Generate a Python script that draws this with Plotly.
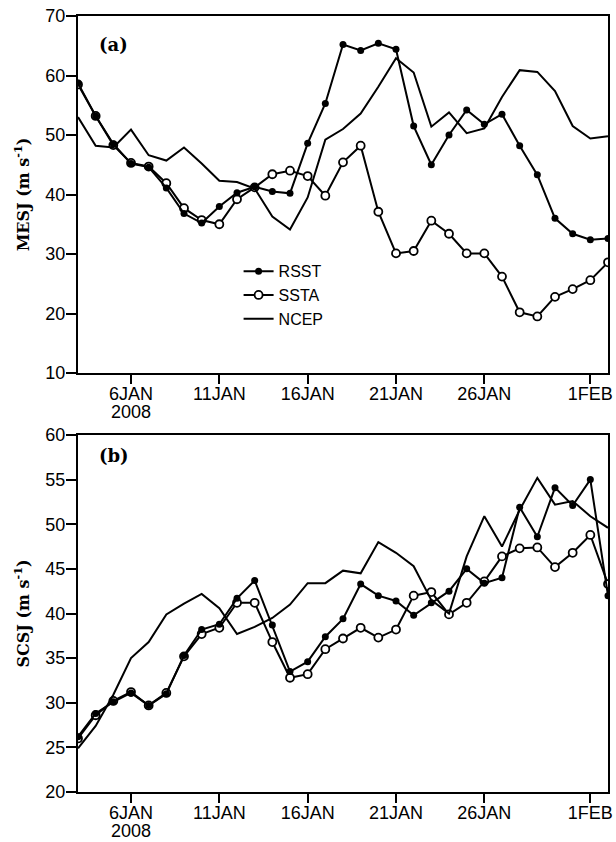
import plotly.graph_objects as go

dates = ["2008-01-03", "2008-01-04", "2008-01-05", "2008-01-06", "2008-01-07", "2008-01-08",
         "2008-01-09", "2008-01-10", "2008-01-11", "2008-01-12", "2008-01-13", "2008-01-14",
         "2008-01-15", "2008-01-16", "2008-01-17", "2008-01-18", "2008-01-19", "2008-01-20",
         "2008-01-21", "2008-01-22", "2008-01-23", "2008-01-24", "2008-01-25", "2008-01-26",
         "2008-01-27", "2008-01-28", "2008-01-29", "2008-01-30", "2008-01-31", "2008-02-01",
         "2008-02-02"]

# Panel (a): MESJ
mesj_rsst = [58.7, 53.2, 48.5, 45.2, 44.6, 41.1, 36.8, 35.2, 38.0, 40.3, 41.3, 40.5,
             40.2, 48.6, 55.3, 65.2, 64.2, 65.4, 64.4, 51.5, 45.0, 50.0, 54.2, 51.8,
             53.5, 48.2, 43.3, 36.0, 33.4, 32.4, 32.6]
mesj_ssta = [58.5, 53.2, 48.3, 45.3, 44.7, 41.9, 37.7, 35.7, 35.0, 39.2, 41.2, 43.4,
             44.0, 43.1, 39.8, 45.4, 48.2, 37.1, 30.1, 30.5, 35.6, 33.4, 30.1, 30.1,
             26.2, 20.2, 19.5, 22.8, 24.1, 25.6, 28.6]
mesj_ncep = [53.0, 48.2, 47.9, 50.9, 46.6, 45.7, 47.9, 45.2, 42.3, 42.1, 41.0, 36.3,
             34.1, 39.5, 49.2, 51.0, 53.6, 58.1, 62.9, 60.5, 51.4, 53.8, 50.3, 51.1,
             56.4, 60.9, 60.6, 57.4, 51.5, 49.4, 49.8]

# Panel (b): SCSJ
scsj_rsst = [26.2, 28.8, 30.1, 31.1, 29.7, 31.0, 35.3, 38.2, 38.8, 41.7, 43.7, 38.7,
             33.5, 34.6, 37.4, 39.4, 43.3, 42.0, 41.4, 39.8, 41.2, 42.5, 45.0, 43.4,
             44.0, 51.9, 48.6, 54.1, 52.1, 55.0, 42.0]
scsj_ssta = [26.0, 28.6, 30.2, 31.2, 29.7, 31.1, 35.2, 37.7, 38.4, 41.2, 41.2, 36.8,
             32.8, 33.2, 36.0, 37.2, 38.4, 37.3, 38.2, 42.0, 42.4, 39.9, 41.2, 43.6,
             46.4, 47.3, 47.4, 45.2, 46.8, 48.8, 43.3]
scsj_ncep = [24.9, 27.4, 30.9, 35.0, 36.8, 39.9, 41.1, 42.2, 40.6, 37.7, 38.5, 39.5,
             41.0, 43.4, 43.4, 44.8, 44.5, 48.0, 46.8, 45.3, 41.5, 40.0, 46.4, 50.9,
             47.5, 51.6, 55.2, 52.2, 52.6, 50.9, 49.6]

tick_dates = ["2008-01-06", "2008-01-11", "2008-01-16", "2008-01-21", "2008-01-26", "2008-02-01"]
tick_text = ["6JAN", "11JAN", "16JAN", "21JAN", "26JAN", "1FEB"]
year_label = "2008"

TICKFONT = dict(family="Liberation Sans, Arial", size=18, color="black")
TITLEFONT = dict(family="DejaVu Serif, Liberation Serif, serif", size=16, color="black")

fig = go.Figure()

def add_panel(rsst, ssta, ncep, xa, ya, show):
    fig.add_trace(go.Scatter(
        x=dates, y=ssta, name="SSTA", mode="lines+markers", xaxis=xa, yaxis=ya,
        line=dict(color="black", width=2),
        marker=dict(symbol="circle", size=8, color="white", line=dict(color="black", width=1.8)),
        showlegend=show, legendrank=2))
    fig.add_trace(go.Scatter(
        x=dates, y=rsst, name="RSST", mode="lines+markers", xaxis=xa, yaxis=ya,
        line=dict(color="black", width=2),
        marker=dict(symbol="circle", size=7, color="black"),
        showlegend=show, legendrank=1))
    fig.add_trace(go.Scatter(
        x=dates, y=ncep, name="NCEP", mode="lines", xaxis=xa, yaxis=ya,
        line=dict(color="black", width=2),
        showlegend=show, legendrank=3))

add_panel(mesj_rsst, mesj_ssta, mesj_ncep, "x", "y", True)
add_panel(scsj_rsst, scsj_ssta, scsj_ncep, "x2", "y2", False)

H_PLOT = 776.0
dom_a = [1 - 357 / H_PLOT, 1.0]
dom_b = [0.0, 357 / H_PLOT]

xcommon = dict(type="date", range=["2008-01-03", "2008-02-02"], tickmode="array",
               tickvals=tick_dates, ticktext=tick_text, ticks="outside", ticklen=9,
               tickwidth=1.5, tickcolor="black", showline=True, linecolor="black",
               linewidth=2, mirror=True, showgrid=False, zeroline=False,
               tickfont=TICKFONT, ticklabeloverflow="allow", ticklabelstandoff=-6)
ycommon = dict(ticks="outside", ticklen=10, tickwidth=1.5, tickcolor="black",
               showline=True, linecolor="black", linewidth=2, mirror=True,
               showgrid=False, zeroline=False, tickfont=TICKFONT, ticklabelstandoff=-3)

fig.update_layout(
    width=616, height=842,
    margin=dict(l=78, r=3, t=16, b=50),
    plot_bgcolor="white", paper_bgcolor="white",
    xaxis=dict(**xcommon, domain=[0, 1], anchor="y"),
    xaxis2=dict(**xcommon, domain=[0, 1], anchor="y2"),
    yaxis=dict(**ycommon, domain=dom_a, anchor="x", range=[10, 70], dtick=10, tick0=10,
               title=dict(text="<b>MESJ (m s<sup>-1</sup>)</b>", font=TITLEFONT, standoff=12)),
    yaxis2=dict(**ycommon, domain=dom_b, anchor="x2", range=[20, 60], dtick=5, tick0=20,
                title=dict(text="<b>SCSJ (m s<sup>-1</sup>)</b>", font=TITLEFONT, standoff=12)),
    legend=dict(x=0.303, y=0.693, xanchor="left", yanchor="top",
                bgcolor="rgba(0,0,0,0)", font=dict(family="Liberation Sans, Arial", size=16, color="black"),
                tracegroupgap=0, itemwidth=30),
    showlegend=True,
)

fig.add_annotation(text="<b>(a)</b>", xref="x domain", yref="y domain", x=0.035, y=(373 - 44) / 357,
                   xanchor="left", yanchor="middle", showarrow=False,
                   font=dict(family="DejaVu Serif, Liberation Serif, serif", size=18, color="black"))
fig.add_annotation(text="<b>(b)</b>", xref="x2 domain", yref="y2 domain", x=0.035, y=(792 - 455) / 357,
                   xanchor="left", yanchor="middle", showarrow=False,
                   font=dict(family="DejaVu Serif, Liberation Serif, serif", size=18, color="black"))
for xr, yr in (("x", "y domain"), ("x2", "y2 domain")):
    fig.add_annotation(text=year_label, xref=xr, yref=yr, x=tick_dates[0], y=-39 / 357,
                       xanchor="center", yanchor="middle", showarrow=False, font=TICKFONT)

fig.write_html("out.html")
